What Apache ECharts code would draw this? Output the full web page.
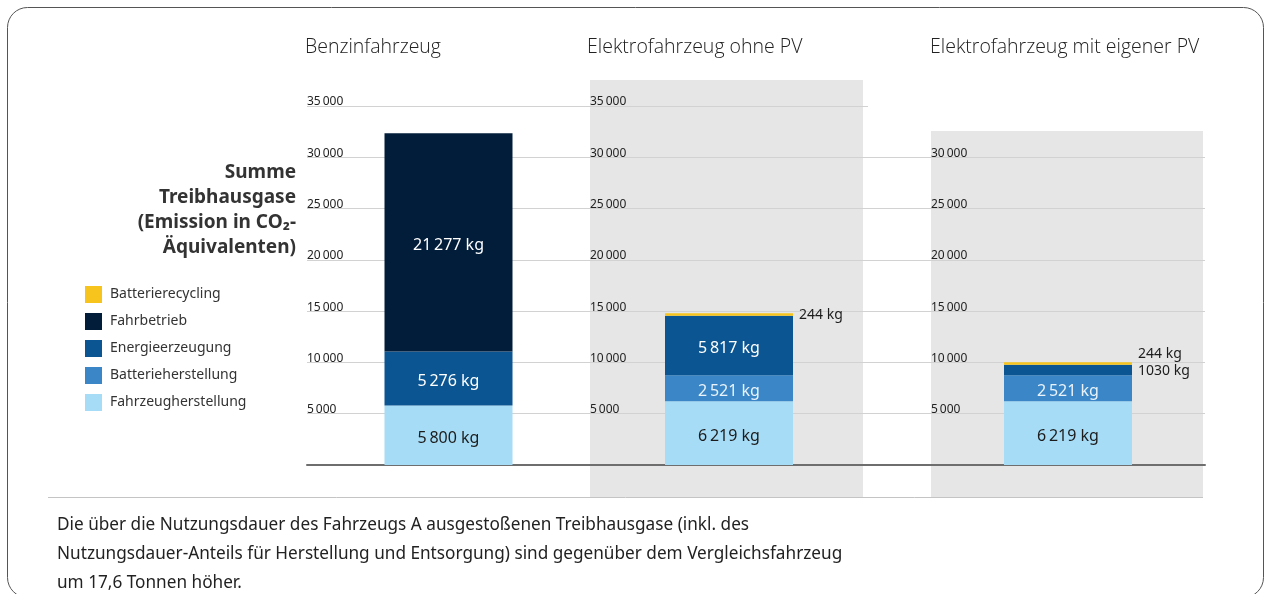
<!DOCTYPE html>
<html>
<head>
<meta charset="utf-8">
<script src="https://cdn.jsdelivr.net/npm/echarts@6/dist/echarts.min.js"></script>
<style>
html,body{margin:0;padding:0;background:#fff;}
#chart{width:1266px;height:594px;}
</style>
</head>
<body>
<div id="chart"></div>
<script>
// ---- data ----
const categories = ['Benzinfahrzeug', 'Elektrofahrzeug ohne PV', 'Elektrofahrzeug mit eigener PV'];
const fahrzeugherstellung = [5800, 6219, 6219];
const batterieherstellung = [null, 2521, 2521];
const energieerzeugung = [5276, 5817, 1030];
const fahrbetrieb = [21277, null, null];
const batterierecycling = [null, 244, 244];
const yMax = 35000;
const yInterval = 5000;
const legendOrder = ['Batterierecycling', 'Fahrbetrieb', 'Energieerzeugung', 'Batterieherstellung', 'Fahrzeugherstellung'];
const yTitle = 'Summe\nTreibhausgase\n(Emission in CO\u2082-\nÄquivalenten)';
const footnote = 'Die über die Nutzungsdauer des Fahrzeugs A ausgestoßenen Treibhausgase (inkl. des\nNutzungsdauer-Anteils für Herstellung und Entsorgung) sind gegenüber dem Vergleichsfahrzeug\num 17,6 Tonnen höher.';

const colors = {
  'Fahrzeugherstellung': '#a6dcf6',
  'Batterieherstellung': '#3a86c6',
  'Energieerzeugung': '#0b5592',
  'Fahrbetrieb': '#021d3a',
  'Batterierecycling': '#f6c41c'
};
const labelColors = {
  'Fahrzeugherstellung': '#1c1c1c',
  'Batterieherstellung': '#eaf3fb',
  'Energieerzeugung': '#ffffff',
  'Fahrbetrieb': '#ffffff',
  'Batterierecycling': '#1c1c1c'
};
const stackOrder = ['Fahrzeugherstellung', 'Batterieherstellung', 'Energieerzeugung', 'Fahrbetrieb', 'Batterierecycling'];
const seriesData = {
  'Fahrzeugherstellung': fahrzeugherstellung,
  'Batterieherstellung': batterieherstellung,
  'Energieerzeugung': energieerzeugung,
  'Fahrbetrieb': fahrbetrieb,
  'Batterierecycling': batterierecycling
};

function fmt(v) {
  return String(v).replace(/\B(?=(\d{3})+(?!\d))/g, '\u2009');
}
function fmtLabel(v) {
  // the source prints small four-digit values without a separator
  return (v < 2000 ? String(v) : fmt(v)) + ' kg';
}

const FONT = 'Noto Sans';
const gridTop = 106, gridH = 359;
const grids = [
  { left: 307, top: gridTop, width: 283, height: gridH },
  { left: 590, top: gridTop, width: 278, height: gridH },
  { left: 931, top: gridTop, width: 274, height: gridH },
  { left: 868, top: gridTop, width: 63, height: gridH }   // filler between panels 2 and 3
];

const xAxes = grids.map((g, i) => ({
  type: 'category',
  gridIndex: i,
  data: i < 3 ? [categories[i]] : [''],
  axisLine: { show: true, lineStyle: { color: '#6e6e6e', width: 2 } },
  axisTick: { show: false },
  axisLabel: { show: false },
  splitLine: { show: false }
}));

const yAxes = grids.map((g, i) => ({
  type: 'value',
  gridIndex: i,
  min: 0,
  max: yMax,
  interval: yInterval,
  axisLine: { show: false },
  axisTick: { show: false },
  splitLine: {
    show: true,
    showMaxLine: i === 0 || i === 1,
    lineStyle: { color: '#d2d2d2', width: 1 }
  },
  axisLabel: {
    show: i < 3,
    inside: true,
    showMinLabel: false,
    showMaxLabel: i === 0 || i === 1,
    margin: 0,
    align: 'left',
    verticalAlign: 'bottom',
    color: '#222',
    fontFamily: FONT,
    fontSize: 12,
    lineHeight: 8,
    formatter: v => fmt(v)
  }
}));

const series = [];
for (let gi = 0; gi < 3; gi++) {
  stackOrder.forEach(name => {
    const v = seriesData[name][gi];
    const small = v !== null && v < 1500;
    let labelOffset = small ? [0, 1] : [0, 3];
    if (gi === 2 && name === 'Batterierecycling') labelOffset = [0, -10];
    series.push({
      name: name,
      type: 'bar',
      xAxisIndex: gi,
      yAxisIndex: gi,
      stack: 'total' + gi,
      barWidth: 128,
      data: [v],
      itemStyle: { color: colors[name] },
      label: {
        show: v !== null,
        position: small ? 'right' : 'inside',
        distance: 6,
        offset: labelOffset,
        color: small ? '#1c1c1c' : labelColors[name],
        fontFamily: FONT,
        fontSize: small ? 14 : 16,
        formatter: p => fmtLabel(p.value)
      },
      emphasis: { disabled: true },
      silent: true
    });
  });
}

const titleStyle = { fontFamily: 'Open Sans', fontWeight: 300, fontSize: 19.5, color: '#222' };

const chart = echarts.init(document.getElementById('chart'), null, { renderer: 'canvas' });
chart.setOption({
  animation: false,
  backgroundColor: '#ffffff',
  grid: grids,
  xAxis: xAxes,
  yAxis: yAxes,
  title: [
    { text: categories[0], left: 300, top: 32, textStyle: titleStyle },
    { text: categories[1], left: 582, top: 32, textStyle: titleStyle },
    { text: categories[2], left: 925, top: 32, textStyle: titleStyle },
    { text: footnote, left: 52, top: 506,
      textStyle: { fontFamily: FONT, fontWeight: 'normal', fontSize: 17.2, lineHeight: 29, color: '#222' } }
  ],
  legend: {
    data: legendOrder,
    orient: 'vertical',
    left: 85,
    top: 286,
    padding: 0,
    itemWidth: 17,
    itemHeight: 17,
    itemGap: 10,
    icon: 'rect',
    selectedMode: false,
    textStyle: { fontFamily: FONT, fontSize: 14, color: '#333', padding: [0, 0, 0, 3] }
  },
  graphic: [
    { type: 'rect', z: -10, shape: { x: 590, y: 80, width: 273, height: 417 }, style: { fill: '#e6e6e6' } },
    { type: 'rect', z: -10, shape: { x: 931, y: 131, width: 272, height: 366 }, style: { fill: '#e6e6e6' } },
    { type: 'line', z: -5, shape: { x1: 48, y1: 497.5, x2: 1203, y2: 497.5 }, style: { stroke: '#c4c4c4', lineWidth: 1 } },
    { type: 'text', z: 50, x: 296, y: 160,
      style: { text: yTitle, align: 'right', verticalAlign: 'top', fill: '#333',
               font: 'bold 19px "Noto Sans"', lineHeight: 25 } },
    { type: 'rect', z: 100, shape: { x: 7.5, y: 7.5, width: 1256, height: 590, r: 20 }, style: { fill: 'none', stroke: '#555', lineWidth: 1 } }
  ],
  series: series
});
</script>
</body>
</html>
